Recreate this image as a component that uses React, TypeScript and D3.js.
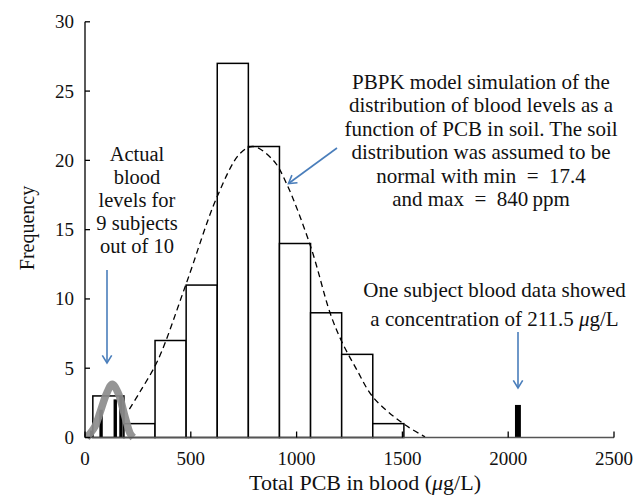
import * as d3 from "d3";

// simulated blood levels (PBPK model) histogram
const binEdges = [37, 184, 331, 478, 625, 772, 919, 1066, 1213, 1360, 1507];
const binCounts = [3, 1, 7, 11, 27, 21, 14, 9, 6, 1];

// dashed fitted curve
const modelX = [210, 260, 345, 476, 625, 733, 795, 890, 953, 1067, 1158, 1211, 1284, 1362, 1504, 1607];
const modelY = [2.05, 3.3, 5.6, 11.0, 17.4, 20.5, 21.0, 20.0, 18.3, 13.75, 9.0, 7.0, 4.9, 2.9, 1.0, 0.05];

// grey curve: actual blood levels, 9 subjects
const actualX = [8, 47, 71, 103, 129, 157, 189, 213, 228];
const actualY = [0, 0.8, 1.8, 3.2, 3.85, 3.2, 1.5, 0.3, 0];

// black bars: actual subjects
const subjectX = [31, 76, 143, 170];
const subjectY = [0.5, 2.0, 2.75, 3.0];
const outlierX = [2046];
const outlierY = [2.35];

const xTicks = [0, 500, 1000, 1500, 2000, 2500];
const yTicks = [0, 5, 10, 15, 20, 25, 30];

const actualLines = ["Actual", "blood", "levels for", "9 subjects", "out of 10"];
const modelLines = [
  "PBPK model simulation of the",
  "distribution of blood levels as a",
  "function of PCB in soil. The soil",
  "distribution was assumed to be",
  "normal with min\u2002=\u200217.4",
  "and max\u2002=\u2002840\u2009ppm",
];

const W = 635;
const H = 499;
const FONT = "'Liberation Serif', 'Times New Roman', serif";
const BLUE = "#4a7ebb";

function Arrow({ x1, y1, x2, y2 }: { x1: number; y1: number; x2: number; y2: number }) {
  const a = Math.atan2(y2 - y1, x2 - x1);
  const len = 9;
  const spread = 0.55;
  const p1 = [x2 - len * Math.cos(a - spread), y2 - len * Math.sin(a - spread)];
  const p2 = [x2 - len * Math.cos(a + spread), y2 - len * Math.sin(a + spread)];
  return (
    <g stroke={BLUE} strokeWidth={1.6} fill="none">
      <line x1={x1} y1={y1} x2={x2} y2={y2} />
      <polyline points={`${p1[0]},${p1[1]} ${x2},${y2} ${p2[0]},${p2[1]}`} />
    </g>
  );
}

export default function App() {
  const x = d3.scaleLinear().domain([0, 2500]).range([85, 614]);
  const y = d3.scaleLinear().domain([0, 30]).range([437.5, 21.8]);

  const model = d3
    .line<number>()
    .x((d, i) => x(modelX[i]))
    .y((d) => y(d))
    .curve(d3.curveCatmullRom);
  const actual = d3
    .line<number>()
    .x((d, i) => x(actualX[i]))
    .y((d) => y(d))
    .curve(d3.curveCatmullRom);

  const thin = 16;
  const wide = 28;

  return (
    <div style={{ position: "absolute", left: 0, top: 0 }}>
      <svg
        width={W}
        height={H}
        style={{ display: "block", background: "#fff", fontFamily: FONT, fill: "#111" }}
      >
        {/* histogram */}
        {binCounts.map((c, i) => (
          <rect
            key={i}
            x={x(binEdges[i])}
            y={y(c)}
            width={x(binEdges[i + 1]) - x(binEdges[i])}
            height={y(0) - y(c)}
            fill="#fff"
            stroke="#000"
            strokeWidth={1.5}
          />
        ))}

        <path d={model(modelY) || ""} fill="none" stroke="#000" strokeWidth={1.3} strokeDasharray="6,4" />

        {subjectY.map((v, i) => (
          <rect
            key={i}
            x={x(subjectX[i] - thin / 2)}
            y={y(v)}
            width={x(thin) - x(0)}
            height={y(0) - y(v)}
            fill="#000"
          />
        ))}
        {outlierY.map((v, i) => (
          <rect
            key={i}
            x={x(outlierX[i] - wide / 2)}
            y={y(v)}
            width={x(wide) - x(0)}
            height={y(0) - y(v)}
            fill="#000"
          />
        ))}

        <path
          d={actual(actualY) || ""}
          fill="none"
          stroke="#8c8c8c"
          strokeOpacity={0.92}
          strokeWidth={7.5}
          strokeLinejoin="round"
        />

        {/* x axis */}
        <line x1={x(0)} x2={x(2500)} y1={y(0)} y2={y(0)} stroke="#555" strokeWidth={1.5} />
        {xTicks.map((t) => (
          <g key={t} transform={`translate(${x(t)},${y(0)})`}>
            <line y1={0} y2={-6} stroke="#000" strokeWidth={1.3} />
            <text y={27} textAnchor="middle" fontSize={19}>
              {t}
            </text>
          </g>
        ))}
        <text x={365} y={490} textAnchor="middle" fontSize={22}>
          Total PCB in blood (<tspan fontStyle="italic">μ</tspan>g/L)
        </text>

        {/* y axis */}
        <line x1={x(0)} x2={x(0)} y1={y(0)} y2={y(30)} stroke="#000" strokeWidth={1.3} />
        {yTicks.map((t) => (
          <g key={t} transform={`translate(${x(0)},${y(t)})`}>
            <line x1={0} x2={5} stroke="#000" strokeWidth={1.3} />
            <text x={-11} y={6.5} textAnchor="end" fontSize={19}>
              {t}
            </text>
          </g>
        ))}
        <text transform="translate(34,228) rotate(-90)" textAnchor="middle" fontSize={20}>
          Frequency
        </text>

        {/* annotations */}
        {actualLines.map((s, i) => (
          <text key={i} x={137} y={161 + i * 23} textAnchor="middle" fontSize={20.5}>
            {s}
          </text>
        ))}
        <Arrow x1={107} y1={270} x2={107} y2={363} />

        {modelLines.map((s, i) => (
          <text key={i} x={481} y={89 + i * 23.4} textAnchor="middle" fontSize={21}>
            {s}
          </text>
        ))}
        <Arrow x1={337} y1={148} x2={288.5} y2={183.5} />

        <text x={494.5} y={297} textAnchor="middle" fontSize={21}>
          One subject blood data showed
        </text>
        <text x={494.5} y={326} textAnchor="middle" fontSize={21}>
          a concentration of 211.5 <tspan fontStyle="italic">μ</tspan>g/L
        </text>
        <Arrow x1={518} y1={332} x2={518} y2={388} />
      </svg>
    </div>
  );
}
